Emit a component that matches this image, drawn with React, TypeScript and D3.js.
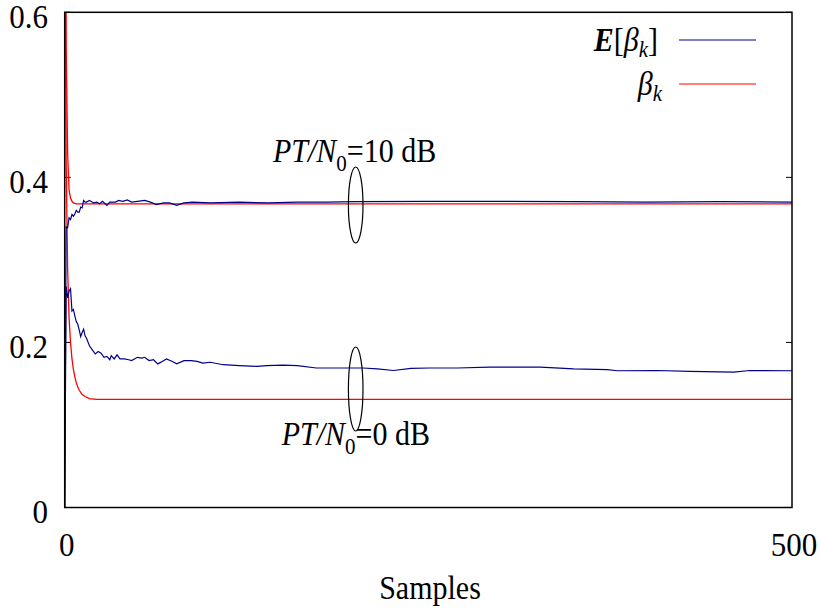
import React from "react";
import * as d3 from "d3";

// ---------- data ----------
const yTicks = [0, 0.2, 0.4, 0.6];
const xTicks = [0, 500];

// PT/N0 = 10 dB : E[beta_k]
const s10Blue = [0, 1, 2, 3, 4, 5, 6, 7, 8, 9, 10, 11, 12, 13, 14, 15, 17, 20, 22, 24, 26, 29, 31, 35, 37, 40, 43, 46, 50, 55, 59, 63, 68, 72, 77, 82, 88, 100, 120, 140, 160, 180, 200, 250, 300, 350, 400, 450, 500];
const v10Blue = [0, 0.340, 0.339, 0.351, 0.349, 0.355, 0.353, 0.356, 0.360, 0.358, 0.358, 0.364, 0.363, 0.372, 0.370, 0.370, 0.372, 0.369, 0.370, 0.368, 0.371, 0.366, 0.370, 0.370, 0.372, 0.371, 0.3726, 0.370, 0.371, 0.372, 0.370, 0.367, 0.369, 0.369, 0.366, 0.369, 0.370, 0.369, 0.370, 0.369, 0.370, 0.370, 0.3705, 0.371, 0.371, 0.3705, 0.370, 0.3705, 0.370];

// PT/N0 = 0 dB : E[beta_k]
const s0Blue = [0, 1, 2, 3, 4, 5, 6, 7, 8, 9, 10, 11, 12, 13, 14, 15, 17, 19, 21, 23, 25, 27, 29, 31, 32, 34, 36, 38, 41, 44, 46, 50, 53, 55, 58, 61, 64, 67, 70, 74, 77, 82, 87, 91, 95, 100, 109, 120, 132, 139, 150, 160, 173, 187, 205, 215, 226, 238, 251, 270, 292, 327, 350, 373, 380, 407, 430, 460, 471, 500];
const v0Blue = [0, 0.268, 0.254, 0.262, 0.265, 0.238, 0.240, 0.232, 0.225, 0.222, 0.215, 0.207, 0.212, 0.216, 0.208, 0.205, 0.196, 0.191, 0.186, 0.189, 0.187, 0.182, 0.183, 0.179, 0.184, 0.180, 0.185, 0.180, 0.180, 0.179, 0.178, 0.182, 0.181, 0.182, 0.178, 0.179, 0.174, 0.177, 0.180, 0.177, 0.174, 0.178, 0.178, 0.177, 0.175, 0.176, 0.173, 0.172, 0.171, 0.172, 0.1726, 0.172, 0.169, 0.169, 0.169, 0.168, 0.166, 0.1685, 0.169, 0.169, 0.170, 0.170, 0.168, 0.167, 0.1657, 0.166, 0.165, 0.164, 0.166, 0.1657];

// beta_k curves
const s10Red = [0, 1, 2, 3, 4, 5, 6, 8, 500];
const v10Red = [0.95, 0.56, 0.43, 0.385, 0.375, 0.371, 0.369, 0.368, 0.368];
const s0Red = [0, 1, 2, 3, 4, 5, 6, 7, 8, 9, 10, 12, 14, 17, 22, 500];
const v0Red = [0.9, 0.42, 0.29, 0.23, 0.2, 0.18, 0.167, 0.158, 0.151, 0.146, 0.142, 0.137, 0.1345, 0.132, 0.131, 0.131];

// ---------- layout ----------
const W = 821, H = 611;
const left = 64.7, right = 792, top = 12.3, bottom = 507.5;
const BLUE = "#00008b";
const RED = "#ff0000";
const FONT = "Liberation Serif";
const SY = 1.12; // vertical stretch of the reference's text

const x = d3.scaleLinear().domain([0, 500]).range([left, right]);
const y = d3.scaleLinear().domain([0, 0.6]).range([bottom, top]);

const line = d3.line<[number, number]>().x(d => x(d[0])).y(d => y(d[1]));
const mk = (s: number[], v: number[]) => line(s.map((k, i) => [k, v[i]] as [number, number])) || "";

function T({ x: tx, y: ty, size, anchor, children }: { x: number; y: number; size: number; anchor?: string; children: React.ReactNode }) {
  return (
    <text transform={`translate(${tx},${ty}) scale(1,${SY})`} fontSize={size} textAnchor={anchor || "start"}
      style={{ fontFamily: FONT }} fill="#000">{children}</text>
  );
}

export default function App() {
  return (
    <svg width={W} height={H} style={{ position: "absolute", left: 0, top: 0, background: "#fff", fontFamily: FONT }}>
      <defs>
        <clipPath id="plot">
          <rect x={left} y={top} width={right - left} height={bottom - top} />
        </clipPath>
      </defs>
      <rect x={0} y={0} width={W} height={H} fill="#fff" />

      {/* ticks */}
      {yTicks.map(t => (
        <g key={"yt" + t}>
          <line x1={left} x2={left + 6} y1={y(t)} y2={y(t)} stroke="#000" strokeWidth={1} />
          <line x1={right} x2={right - 6} y1={y(t)} y2={y(t)} stroke="#000" strokeWidth={1} />
          <T x={48} y={y(t) + 15.5} size={31} anchor="end">{t === 0 ? "0" : t.toFixed(1)}</T>
        </g>
      ))}
      {xTicks.map(t => (
        <T key={"xt" + t} x={x(t) + 2} y={556} size={31} anchor="middle">{t}</T>
      ))}
      <T x={430} y={599} size={30} anchor="middle">Samples</T>

      {/* series */}
      <g clipPath="url(#plot)" fill="none">
        <path d={mk(s0Red, v0Red)} stroke={RED} strokeWidth={1.3} />
        <path d={mk(s10Red, v10Red)} stroke={RED} strokeWidth={1.3} />
        <path d={mk(s0Blue, v0Blue)} stroke={BLUE} strokeWidth={1.2} />
        <path d={mk(s10Blue, v10Blue)} stroke={BLUE} strokeWidth={1.2} />
      </g>

      {/* frame */}
      <rect x={left} y={top} width={right - left} height={bottom - top} fill="none" stroke="#000" strokeWidth={1.5} />

      {/* legend */}
      <T x={658} y={51} size={30} anchor="end">
        <tspan fontWeight="bold" fontStyle="italic">E</tspan>
        <tspan>[</tspan>
        <tspan fontStyle="italic">β</tspan>
        <tspan fontStyle="italic" fontSize={21} dy={5}>k</tspan>
        <tspan dy={-5}>]</tspan>
      </T>
      <line x1={679} x2={756} y1={40} y2={40} stroke={BLUE} strokeWidth={1.2} />
      <T x={662} y={95} size={30} anchor="end">
        <tspan fontStyle="italic">β</tspan>
        <tspan fontStyle="italic" fontSize={21} dy={5}>k</tspan>
      </T>
      <line x1={679} x2={756} y1={84} y2={84} stroke={RED} strokeWidth={1.2} />

      {/* annotations */}
      <ellipse cx={355.7} cy={205} rx={7.3} ry={38} fill="none" stroke="#000" strokeWidth={1.2} />
      <ellipse cx={355.7} cy={389} rx={7.3} ry={42} fill="none" stroke="#000" strokeWidth={1.2} />
      <T x={273} y={162} size={30}>
        <tspan fontStyle="italic">PT</tspan>
        <tspan fontStyle="italic">/N</tspan>
        <tspan fontSize={21} dy={8}>0</tspan>
        <tspan dy={-8}>=10 dB</tspan>
      </T>
      <T x={281.7} y={445} size={30}>
        <tspan fontStyle="italic">PT</tspan>
        <tspan fontStyle="italic">/N</tspan>
        <tspan fontSize={21} dy={8}>0</tspan>
        <tspan dy={-8}>=0 dB</tspan>
      </T>
    </svg>
  );
}
